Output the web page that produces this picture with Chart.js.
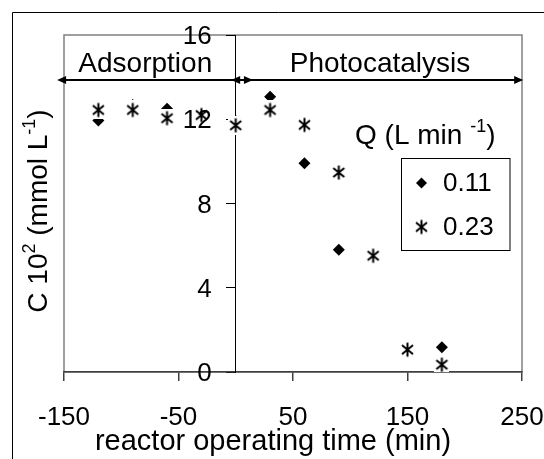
<!DOCTYPE html>
<html>
<head>
<meta charset="utf-8">
<script src="https://cdn.jsdelivr.net/npm/chart.js@4"></script>
<style>
  html, body { margin: 0; padding: 0; background: #fff; }
</style>
</head>
<body>
<canvas id="chart" width="544" height="459"></canvas>
<script>
// reactor operating time (min) and C 10^2 (mmol/L) for the two flow rates
let times = [-120, -90, -60, -30, 0, 30, 60, 90, 120, 150, 180];
let q011 = [11.94, 12.68, 12.5, null, 11.92, 13.07, 9.91, 5.8, null, null, 1.17];
let q023 = [12.44, 12.44, 12.05, 12.2, 11.71, 12.44, 11.73, 9.47, 5.52, 1.06, 0.35];
let seriesLabels = ['0.11', '0.23'];

let xTicks = [-150, -50, 50, 150, 250];
let yTicks = [0, 4, 8, 12, 16];

// the two phase arrows above the points
let phaseNames = ['Adsorption', 'Photocatalysis'];
let phaseFrom = [-156, -4];
let phaseTo = [15, 251];
let phaseTextAt = [-79, 126];
let phaseY = 13.87;

const FONT = "'Liberation Sans', Arial, sans-serif";

// excel-like asterisk marker, it has a white box behind it
function makeStar() {
  let c = document.createElement('canvas');
  c.width = 15; c.height = 19;
  let g = c.getContext('2d');
  g.fillStyle = '#fff';
  g.fillRect(0, 0, 15, 19);
  g.strokeStyle = '#000';
  g.lineWidth = 2;
  g.beginPath();
  g.moveTo(7.5, 2.5); g.lineTo(7.5, 16.5);
  g.moveTo(2, 5); g.lineTo(13, 14);
  g.moveTo(13, 5); g.lineTo(2, 14);
  g.stroke();
  return c;
}
let starImg = makeStar();

function richWidth(ctx, parts) {
  let w = 0;
  for (let p of parts) {
    ctx.font = p[1] + 'px ' + FONT;
    w += ctx.measureText(p[0]).width;
  }
  return w;
}
function drawRich(ctx, parts, x, y) {
  for (let p of parts) {
    ctx.font = p[1] + 'px ' + FONT;
    ctx.fillText(p[0], x, y - p[2]);
    x += ctx.measureText(p[0]).width;
  }
}

let extras = {
  id: 'extras',
  beforeDraw(chart) {
    let ctx = chart.ctx, a = chart.chartArea;
    ctx.save();
    // outer frame (only left and top are inside the picture)
    ctx.strokeStyle = '#000';
    ctx.lineWidth = 1;
    ctx.beginPath();
    ctx.moveTo(12.5, 459); ctx.lineTo(12.5, 12.5); ctx.lineTo(544, 12.5);
    ctx.stroke();
    // plot area frame
    ctx.strokeStyle = '#808080';
    ctx.lineWidth = 1.5;
    ctx.strokeRect(a.left, a.top, a.right - a.left, a.bottom - a.top);
    ctx.restore();
  },
  afterDatasetsDraw(chart) {
    // y tick labels sit left of the axis at x = 0, over the points
    let ctx = chart.ctx, ys = chart.scales.y;
    let ax = chart.scales.x.getPixelForValue(0);
    ctx.save();
    ctx.fillStyle = '#000';
    ctx.font = '26px ' + FONT;
    ctx.textAlign = 'right';
    ctx.textBaseline = 'middle';
    for (let t of ys.ticks) {
      ctx.fillText(String(t.value), ax - 24, ys.getPixelForValue(t.value) + 2);
    }
    ctx.restore();
  },
  afterDraw(chart) {
    let ctx = chart.ctx, a = chart.chartArea;
    let xs = chart.scales.x, ys = chart.scales.y;
    ctx.save();
    ctx.fillStyle = '#000';
    ctx.strokeStyle = '#000';

    // phase arrows
    let ay = Math.round(ys.getPixelForValue(phaseY));
    for (let i = 0; i < phaseNames.length; i++) {
      let x1 = xs.getPixelForValue(phaseFrom[i]);
      let x2 = xs.getPixelForValue(phaseTo[i]);
      ctx.lineWidth = 2;
      ctx.beginPath();
      ctx.moveTo(x1 + 6, ay); ctx.lineTo(x2 - 6, ay);
      ctx.stroke();
      ctx.beginPath();
      ctx.moveTo(x1, ay); ctx.lineTo(x1 + 9, ay - 4); ctx.lineTo(x1 + 9, ay + 4); ctx.closePath();
      ctx.moveTo(x2, ay); ctx.lineTo(x2 - 9, ay - 4); ctx.lineTo(x2 - 9, ay + 4); ctx.closePath();
      ctx.fill();
      ctx.font = '28px ' + FONT;
      ctx.textAlign = 'center';
      ctx.textBaseline = 'alphabetic';
      ctx.fillText(phaseNames[i], xs.getPixelForValue(phaseTextAt[i]), ay - 8);
    }

    // x axis title
    ctx.font = '29px ' + FONT;
    ctx.textAlign = 'center';
    ctx.fillText('reactor operating time (min)', (a.left + a.right) / 2 - 20, 450);

    // y axis title, rotated
    let yt = [['C 10', 28, 0], ['2', 18, 12], [' (mmol L', 28, 0], ['-1', 18, 12], [')', 28, 0]];
    ctx.save();
    ctx.translate(47, 211);
    ctx.rotate(-Math.PI / 2);
    ctx.textAlign = 'left';
    drawRich(ctx, yt, -richWidth(ctx, yt) / 2, 0);
    ctx.restore();

    // legend title
    ctx.textAlign = 'left';
    drawRich(ctx, [['Q (L min ', 28, 0], ['-1', 18, 12], [')', 28, 0]], 355, 144);

    // legend box
    ctx.fillStyle = '#fff';
    ctx.fillRect(401.5, 158.5, 108.5, 92);
    ctx.strokeStyle = '#000';
    ctx.lineWidth = 1;
    ctx.strokeRect(401.5, 158.5, 108.5, 92);
    ctx.fillStyle = '#000';
    let rows = [183, 227];
    // diamond
    ctx.beginPath();
    ctx.moveTo(421.5, rows[0] - 5.5); ctx.lineTo(427, rows[0]);
    ctx.lineTo(421.5, rows[0] + 5.5); ctx.lineTo(416, rows[0]); ctx.closePath();
    ctx.fill();
    // asterisk
    ctx.drawImage(starImg, 421.5 - starImg.width / 2, rows[1] - starImg.height / 2);
    ctx.font = '26px ' + FONT;
    ctx.textBaseline = 'middle';
    for (let i = 0; i < seriesLabels.length; i++) {
      ctx.fillText(seriesLabels[i], 443, rows[i] + 1);
    }
    ctx.restore();
  }
};

new Chart(document.getElementById('chart'), {
  type: 'scatter',
  data: {
    datasets: [{
      label: seriesLabels[0],
      data: times.map((t, i) => ({x: t, y: q011[i]})),
      pointStyle: 'rectRot',
      pointRadius: 6,
      backgroundColor: '#000',
      borderColor: '#000',
      borderWidth: 0,
      order: 2
    }, {
      label: seriesLabels[1],
      data: times.map((t, i) => ({x: t, y: q023[i]})),
      pointStyle: starImg,
      pointRadius: 7,
      order: 1
    }]
  },
  options: {
    responsive: false,
    animation: false,
    events: [],
    layout: { padding: { left: 64, right: 22, top: 35, bottom: 0 } },
    plugins: {
      legend: { display: false },
      tooltip: { enabled: false }
    },
    scales: {
      x: {
        type: 'linear',
        min: -150,
        max: 250,
        afterBuildTicks: s => { s.ticks = xTicks.map(v => ({value: v})); },
        afterFit: s => { s.height = 87; s.paddingLeft = 0; s.paddingRight = 0; },
        grid: { drawOnChartArea: false, tickLength: 9, color: '#404040', lineWidth: 1.5 },
        border: { color: '#404040', width: 1.5 },
        ticks: { font: { size: 26, family: FONT }, color: '#000', padding: 21, maxRotation: 0, autoSkip: false }
      },
      y: {
        type: 'linear',
        min: 0,
        max: 16,
        position: { x: 0 },
        afterBuildTicks: s => { s.ticks = yTicks.map(v => ({value: v})); },
        afterFit: s => { s.paddingTop = 0; s.paddingBottom = 0; },
        grid: { drawOnChartArea: false, tickLength: 9, color: '#000', lineWidth: 1 },
        border: { color: '#000', width: 1 },
        ticks: { display: false }
      }
    }
  },
  plugins: [extras]
});
</script>
</body>
</html>
